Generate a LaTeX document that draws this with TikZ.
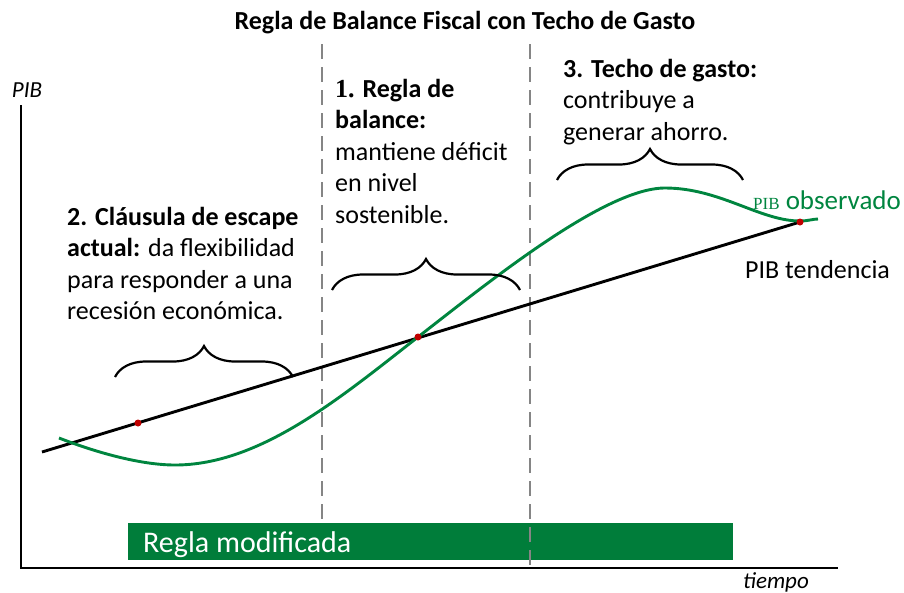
\documentclass[tikz,border=0pt]{standalone}
\usepackage{fontspec}
\setmainfont{Carlito}
\newfontfamily\pibserif{Liberation Serif}
\usetikzlibrary{decorations.pathreplacing,calc}
\definecolor{CurveGreen}{HTML}{00853F}
\definecolor{RuleGreen}{HTML}{007D3A}
\definecolor{CutGray}{HTML}{858585}
\definecolor{DotRed}{HTML}{C00000}

\begin{document}
\begin{tikzpicture}[x=1pt,y=-1pt,
    axis/.style={line width=1.6pt},
    cutline/.style={CutGray,line width=2.6pt,dash pattern=on 15pt off 8pt},
    curlybrace/.style={decorate,decoration={brace,amplitude=31pt},line width=2.2pt},
    note/.style={anchor=base west,inner sep=0pt,align=left,font=\fontsize{26}{31.5}\selectfont},
    axislabel/.style={anchor=base,inner sep=0pt,font=\fontsize{23}{27}\selectfont\itshape},
    gdpdot/.style={circle,fill=DotRed,inner sep=0pt,minimum size=7pt}]
    \useasboundingbox (0,0) rectangle (904,592);

    \node[anchor=base,inner sep=0pt,font=\fontsize{26}{30}\selectfont\bfseries] (title) at (465,29) {Regla de Balance Fiscal con Techo de Gasto};

    \coordinate (origin) at (21,568);
    \coordinate (ytop) at (21,105);
    \coordinate (xend) at (838,568);
    \draw[axis] (ytop) -- (origin) -- (xend);
    \node[axislabel] (ylabel) at (27,97) {PIB};
    \node[axislabel] (xlabel) at (776,588) {tiempo};

    \node[fill=RuleGreen,minimum width=605pt,minimum height=37pt,inner sep=0pt] (rulebox) at (430.5,541.5) {};
    \node[anchor=base west,inner sep=0pt,text=white,font=\fontsize{30}{34}\selectfont] (ruletext) at (143,552) {Regla modificada};

    \coordinate (cutA top) at (322,44);
    \coordinate (cutA bot) at (322,525);
    \coordinate (cutB top) at (530,44);
    \coordinate (cutB bot) at (530,565);
    \draw[cutline] (cutA top) -- (cutA bot);
    \draw[cutline] (cutB top) -- (cutB bot);

    \coordinate (trend start) at (42,452);
    \coordinate (trend end) at (800,222);
    \draw[line width=2.9pt] (trend start) -- (trend end);
    \draw[CurveGreen,line width=2.9pt] (59,438)
        .. controls (95,452) and (140,465) .. (175,465)
        .. controls (260,465) and (340,398) .. (418,337)
        .. controls (490,281) and (605,188) .. (665,188)
        .. controls (720,188) and (760,221) .. (800,221)
        .. controls (808,221) and (813,219) .. (818,219);
    \node[gdpdot] (dotA) at (138,423) {};
    \node[gdpdot] (dotB) at (418,337) {};
    \node[gdpdot] (dotC) at (800,222) {};

    \draw[curlybrace] (115,377) -- (293,377);
    \draw[curlybrace] (332,290) -- (520,290);
    \draw[curlybrace] (557,180) -- (743,180);

    \node[note] (capnote) at (563,140) {\textbf{3. Techo de gasto:}\\contribuye a\\generar ahorro.};
    \node[note] (balnote) at (335,223) {\textbf{{\pibserif 1.} Regla de}\\\textbf{balance:}\\mantiene déficit\\en nivel\\sostenible.};
    \node[note] (escnote) at (67,319.5) {\textbf{2. Cláusula de escape}\\\textbf{actual:} da flexibilidad\\para responder a una\\recesión económica.};

    \node[anchor=base west,inner sep=0pt,text=CurveGreen,font=\fontsize{27}{31}\selectfont] (obslabel) at (753,209) {{\pibserif\fontsize{17}{20}\selectfont PIB} observado};
    \node[anchor=base west,inner sep=0pt,font=\fontsize{26}{30}\selectfont] (trendlabel) at (745,278) {PIB tendencia};
\end{tikzpicture}
\end{document}
